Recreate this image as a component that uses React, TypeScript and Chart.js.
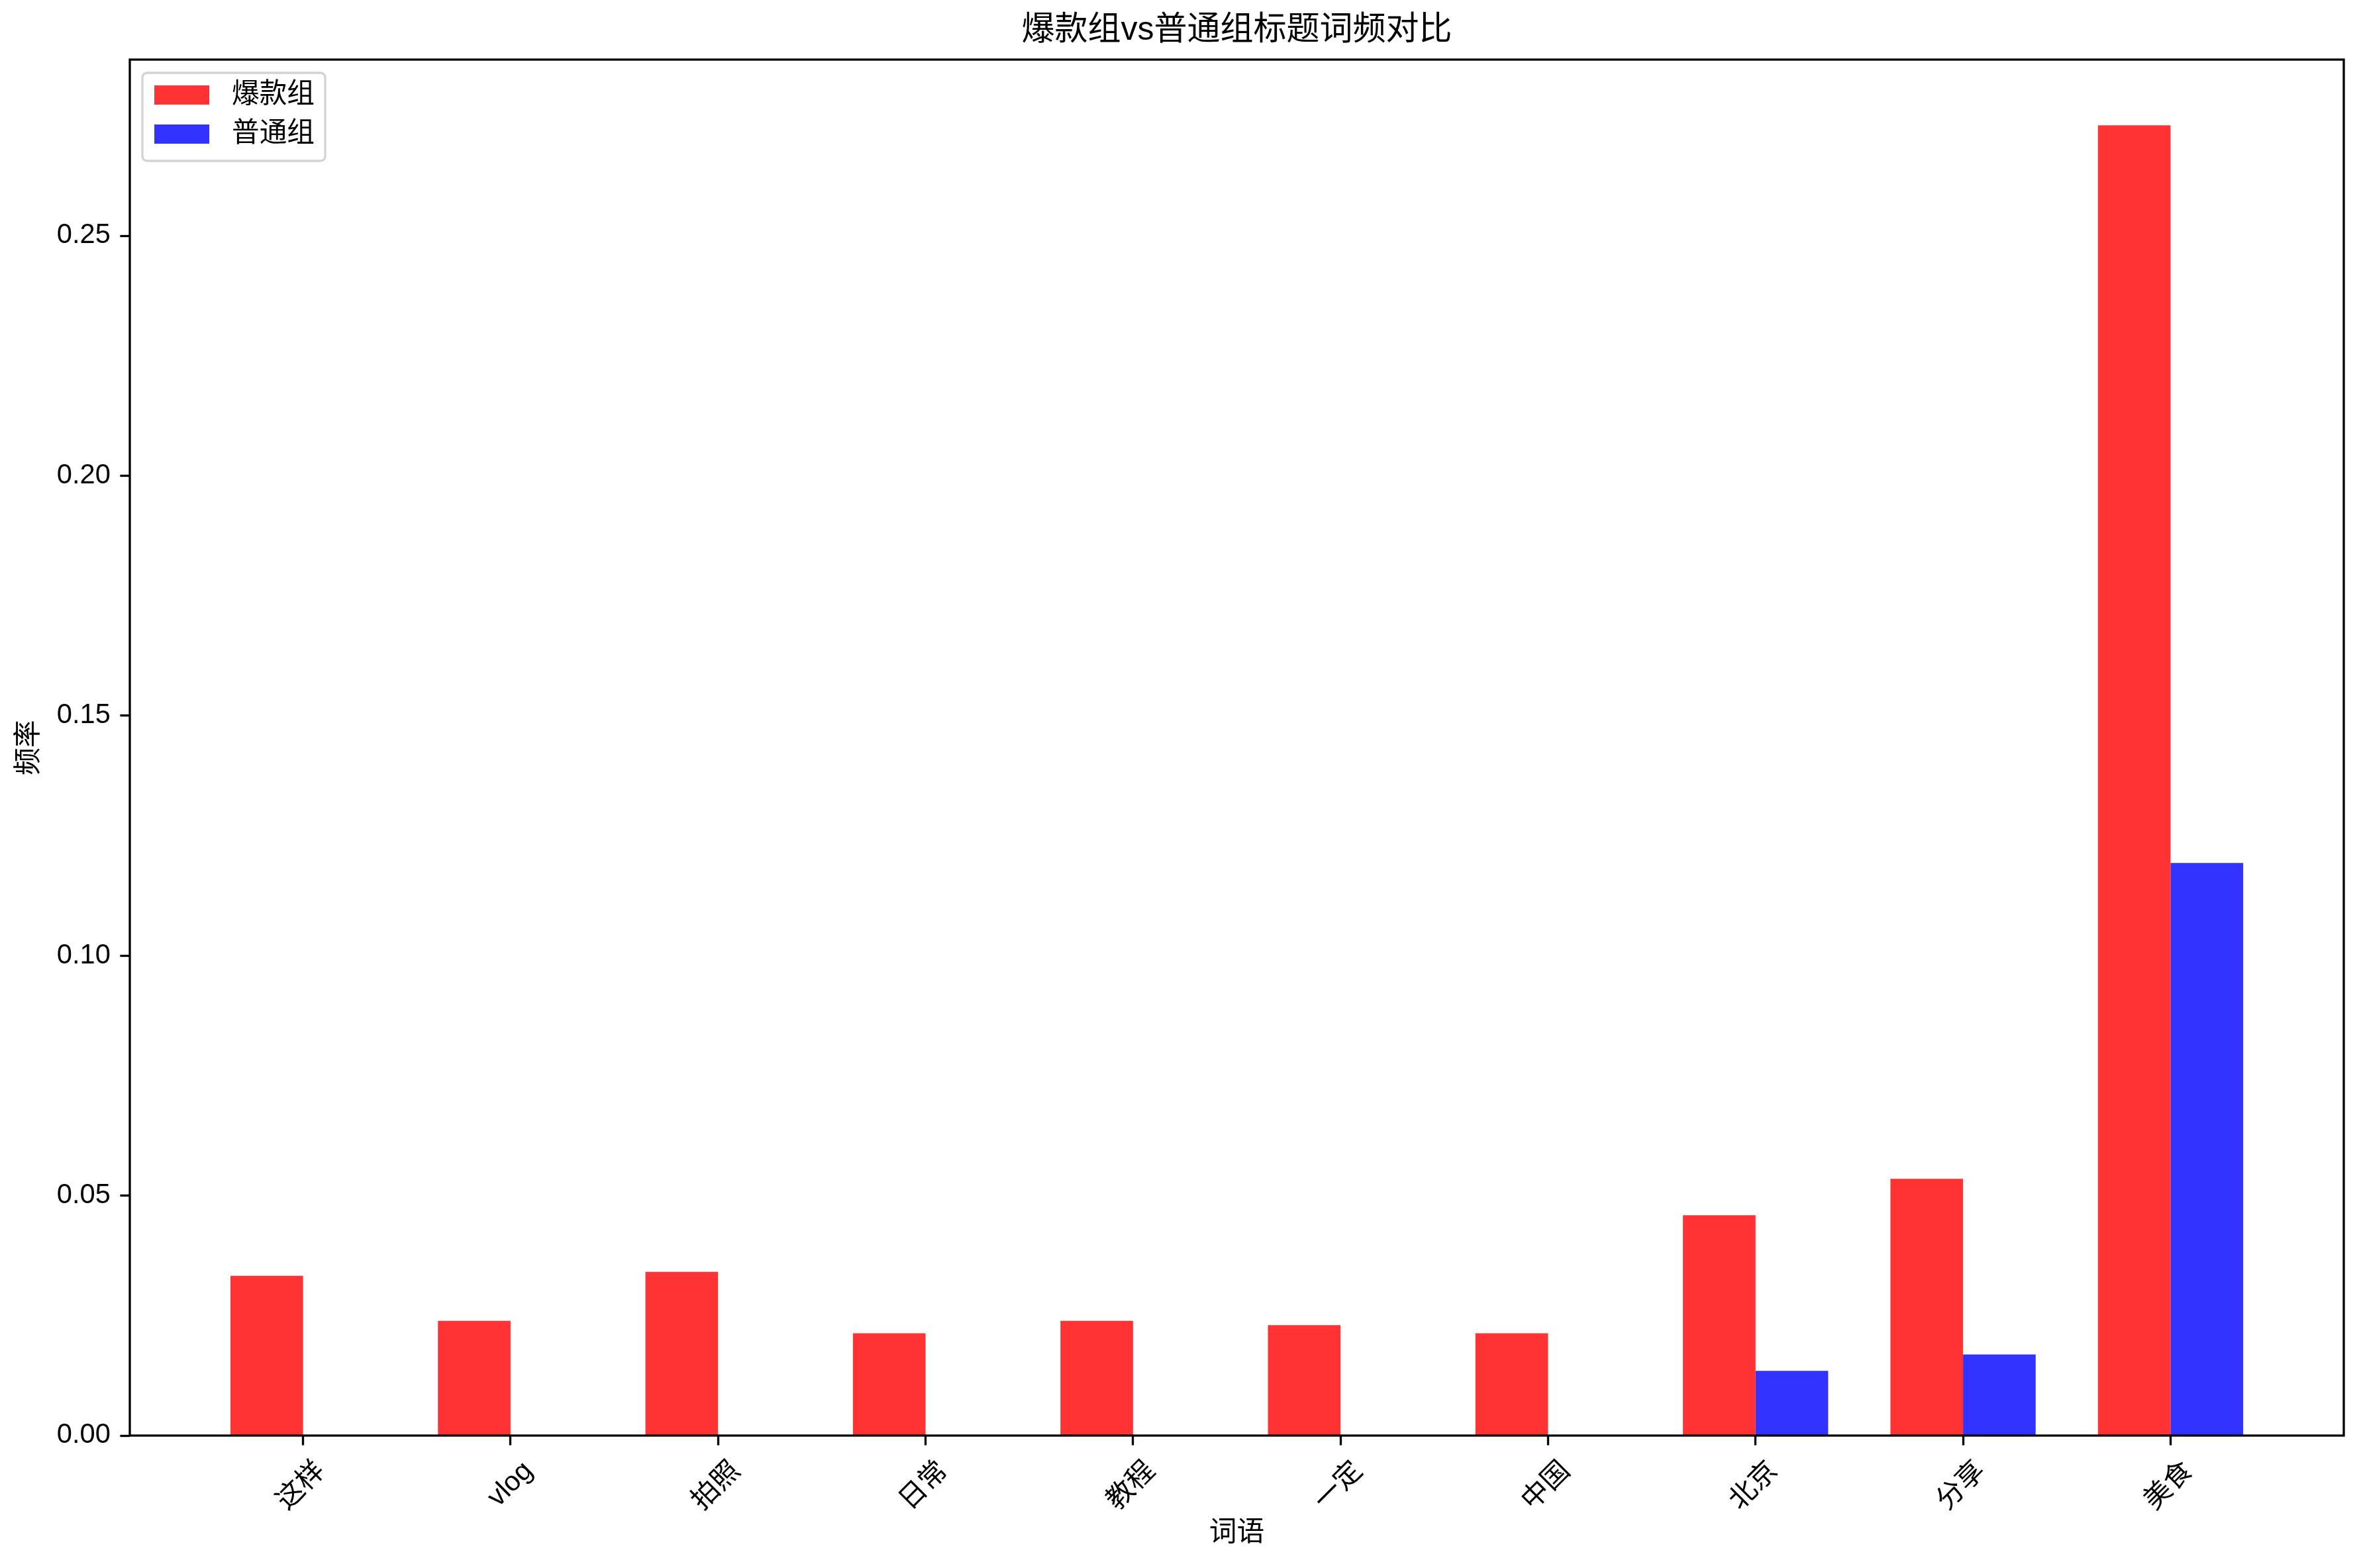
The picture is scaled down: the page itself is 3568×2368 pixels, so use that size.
import React, { useEffect, useRef } from "react";
import { Chart, registerables } from "chart.js";

Chart.register(...registerables);

const categories = ["这样", "vlog", "拍照", "日常", "教程", "一定", "中国", "北京", "分享", "美食"];
const hotValues = [0.0333, 0.0239, 0.0341, 0.0213, 0.0239, 0.023, 0.0213, 0.0459, 0.0535, 0.273];
const normalValues = [0, 0, 0, 0, 0, 0, 0, 0.0135, 0.0169, 0.1193];
const seriesNames = ["爆款组", "普通组"];
const seriesColors = ["rgba(255,0,0,0.8)", "rgba(0,0,255,0.8)"];
const yTickValues = [0, 0.05, 0.1, 0.15, 0.2, 0.25];
const titleText = "爆款组vs普通组标题词频对比";
const xAxisTitle = "词语";
const yAxisTitle = "频率";

const FONT = '"Liberation Sans", Arial, "Noto Sans CJK SC", sans-serif';
const FS = 41.67;

const framePlugin = {
  id: "frameAndLegend",
  afterDraw(chart: any) {
    const { ctx, chartArea } = chart;
    const { left, top, right, bottom } = chartArea;
    ctx.save();
    // legend
    const lx = left + 19, ly = top + 20, lw = 276, lh = 133, r = 8;
    ctx.beginPath();
    ctx.moveTo(lx + r, ly);
    ctx.lineTo(lx + lw - r, ly);
    ctx.quadraticCurveTo(lx + lw, ly, lx + lw, ly + r);
    ctx.lineTo(lx + lw, ly + lh - r);
    ctx.quadraticCurveTo(lx + lw, ly + lh, lx + lw - r, ly + lh);
    ctx.lineTo(lx + r, ly + lh);
    ctx.quadraticCurveTo(lx, ly + lh, lx, ly + lh - r);
    ctx.lineTo(lx, ly + r);
    ctx.quadraticCurveTo(lx, ly, lx + r, ly);
    ctx.closePath();
    ctx.fillStyle = "rgba(255,255,255,0.8)";
    ctx.fill();
    ctx.strokeStyle = "#d4d4d4";
    ctx.lineWidth = 3.3;
    ctx.stroke();
    const rowCenters = [top + 53.5, top + 112.5];
    chart.data.datasets.forEach((ds: any, i: number) => {
      const cy = rowCenters[i];
      ctx.fillStyle = ds.backgroundColor;
      ctx.fillRect(left + 37, cy - 14.5, 83, 29);
      ctx.fillStyle = "#000";
      ctx.font = `${FS}px ${FONT}`;
      ctx.textBaseline = "middle";
      ctx.textAlign = "left";
      ctx.fillText(ds.label, left + 154, cy);
    });
    // frame
    ctx.strokeStyle = "#000";
    ctx.lineWidth = 3.3;
    ctx.strokeRect(left, top, right - left, bottom - top);
    ctx.restore();
  },
};

export default function App() {
  const ref = useRef<HTMLCanvasElement>(null);
  useEffect(() => {
    if (!ref.current) return;
    const chart = new Chart(ref.current, {
      type: "bar",
      data: {
        datasets: [
          {
            label: seriesNames[0],
            data: hotValues.map((v, i) => ({ x: i, y: v })),
            backgroundColor: seriesColors[0],
            borderWidth: 0,
          },
          {
            label: seriesNames[1],
            data: normalValues.map((v, i) => ({ x: i, y: v })),
            backgroundColor: seriesColors[1],
            borderWidth: 0,
          },
        ],
      },
      options: {
        responsive: false,
        animation: false,
        devicePixelRatio: 1,
        layout: { padding: { left: 0, right: 29, top: 0, bottom: 0 } },
        datasets: { bar: { categoryPercentage: 0.7, barPercentage: 1.0 } },
        plugins: {
          legend: { display: false },
          tooltip: { enabled: false },
          title: {
            display: true,
            fullSize: false,
            text: titleText,
            color: "#000",
            font: { family: FONT, size: 50, weight: "normal", lineHeight: 1.2 },
            padding: { top: 16, bottom: 14 },
          },
        },
        scales: {
          x: {
            type: "linear",
            min: -0.835,
            max: 9.835,
            offset: false,
            afterBuildTicks: (s: any) => {
              s.ticks = categories.map((_, i) => ({ value: i }));
            },
            afterFit: (s: any) => {
              s.height = 200;
              s.paddingLeft = 0;
              s.paddingRight = 0;
            },
            ticks: {
              autoSkip: false,
              maxRotation: 45,
              minRotation: 45,
              padding: 14.6,
              labelOffset: 27,
              color: "#000",
              font: { family: FONT, size: FS },
              callback: (v: any) => categories[Math.round(Number(v))] ?? "",
            },
            grid: {
              display: true,
              offset: false,
              drawOnChartArea: false,
              drawTicks: true,
              tickLength: 14.6,
              tickWidth: 3.3,
              tickColor: "#000",
            },
            border: { display: false },
            title: {
              display: true,
              text: xAxisTitle,
              color: "#000",
              font: { family: FONT, size: FS, lineHeight: 1.2 },
              padding: { top: 0, bottom: 27 },
            },
          },
          y: {
            type: "linear",
            min: 0,
            max: 0.2867,
            afterBuildTicks: (s: any) => {
              s.ticks = yTickValues.map((v) => ({ value: v }));
            },
            afterFit: (s: any) => {
              s.width = 196;
              s.paddingTop = 0;
              s.paddingBottom = 0;
            },
            ticks: {
              padding: 14.6,
              color: "#000",
              font: { family: FONT, size: FS },
              callback: (v: any) => Number(v).toFixed(2),
            },
            grid: {
              display: true,
              drawOnChartArea: false,
              drawTicks: true,
              tickLength: 14.6,
              tickWidth: 3.3,
              tickColor: "#000",
            },
            border: { display: false },
            title: {
              display: true,
              text: yAxisTitle,
              color: "#000",
              font: { family: FONT, size: FS, lineHeight: 1.2 },
              padding: { top: 20, bottom: 0 },
            },
          },
        },
      },
      plugins: [framePlugin],
    } as any);
    return () => chart.destroy();
  }, []);
  return (
    <div style={{ position: "absolute", left: 0, top: 0, width: 3568, height: 2368, background: "#fff" }}>
      <canvas ref={ref} width={3568} height={2368} style={{ width: 3568, height: 2368, display: "block" }} />
    </div>
  );
}
